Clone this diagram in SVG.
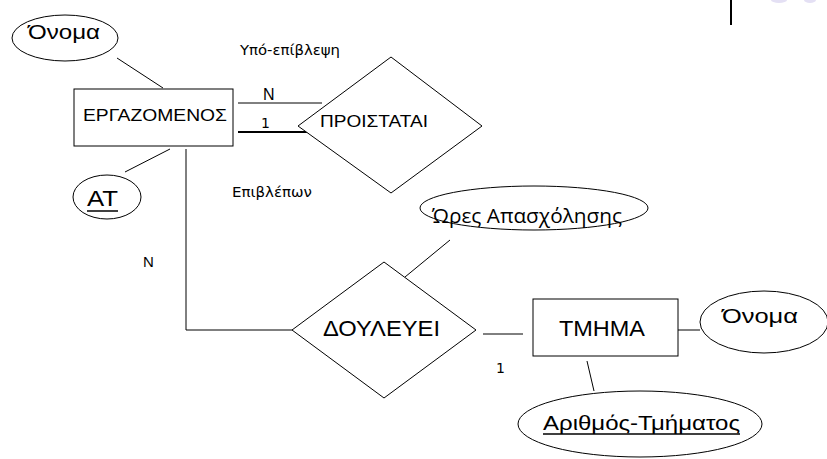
<svg xmlns="http://www.w3.org/2000/svg" width="827" height="459" viewBox="0 0 827 459">
<style>
.shp{fill:#fff;stroke:#000;stroke-width:1}
.ln{fill:none;stroke:#000;stroke-width:1}
.t{font-family:"Liberation Sans",Arial,sans-serif;fill:#000}
.h{font-family:"DejaVu Sans",sans-serif;fill:#000}
.o{font-family:"Open Sans","Noto Sans",sans-serif;fill:#000}
</style>
<rect width="827" height="459" fill="#fff"/>
<line x1="731" y1="0" x2="731" y2="25" stroke="#000" stroke-width="2"/>
<ellipse cx="779" cy="0" rx="8" ry="3" fill="#e4e0f4"/>
<ellipse cx="810" cy="0" rx="6" ry="3" fill="#e4e0f4"/>
<g id="connectors">
<line class="ln" x1="117" y1="58" x2="163" y2="88"/>
<line class="ln" x1="125" y1="172" x2="170" y2="149"/>
<line class="ln" x1="238" y1="103" x2="322" y2="103"/>
<line x1="238" y1="132" x2="313" y2="132" stroke="#000" stroke-width="2"/>
<polyline class="ln" points="186,149 186,330 292,330"/>
<line class="ln" x1="405" y1="277" x2="450" y2="240"/>
<line class="ln" x1="483" y1="334" x2="523" y2="334"/>
<line class="ln" x1="678" y1="330" x2="700" y2="330"/>
<line class="ln" x1="587" y1="361" x2="594" y2="391"/>
<text class="t" x="263" y="100" font-size="16">N</text>
<text class="h" x="261" y="128" font-size="14">1</text>
<text class="t" x="143" y="267" font-size="15">N</text>
<text class="h" x="496" y="373" font-size="14">1</text>
<text class="h" x="240" y="55" font-size="14" textLength="100" lengthAdjust="spacingAndGlyphs">Υπό-επίβλεψη</text>
<text class="h" x="232" y="197" font-size="14" textLength="80" lengthAdjust="spacingAndGlyphs">Επιβλέπων</text>
</g>
<g id="onoma1">
<ellipse class="shp" cx="65" cy="38" rx="53" ry="23"/>
<text class="t" x="28" y="39" font-size="20" textLength="72" lengthAdjust="spacingAndGlyphs">Όνομα</text>
</g>
<g id="ergazomenos">
<rect class="shp" x="74" y="89" width="159" height="57" stroke="#333"/>
<text class="t" x="83" y="121" font-size="17" textLength="144" lengthAdjust="spacingAndGlyphs">ΕΡΓΑΖΟΜΕΝΟΣ</text>
</g>
<g id="at">
<ellipse class="shp" cx="107" cy="197" rx="34" ry="22"/>
<text class="t" x="87" y="206" font-size="22" textLength="31" lengthAdjust="spacingAndGlyphs">ΑΤ</text>
<line x1="87" y1="211" x2="118" y2="211" stroke="#000" stroke-width="1.5"/>
</g>
<g id="proistatai">
<polygon class="shp" points="298,126 391,57 482,126 391,193"/>
<text class="t" x="320" y="127" font-size="17" textLength="108" lengthAdjust="spacingAndGlyphs">ΠΡΟΙΣΤΑΤΑΙ</text>
</g>
<g id="ores">
<ellipse class="shp" cx="534" cy="208" rx="114" ry="22"/>
<text class="o" x="432" y="223" font-size="20" textLength="190" lengthAdjust="spacingAndGlyphs">Ώρες Απασχόλησης</text>
</g>
<g id="douleuei">
<polygon class="shp" points="292,330 384,262 476,330 384,398"/>
<text class="t" x="323" y="336" font-size="22" textLength="117" lengthAdjust="spacingAndGlyphs">ΔΟΥΛΕΥΕΙ</text>
</g>
<g id="tmima">
<rect class="shp" x="533" y="299" width="145" height="57" stroke="#333"/>
<text class="t" x="559" y="336" font-size="22" textLength="86" lengthAdjust="spacingAndGlyphs">ΤΜΗΜΑ</text>
</g>
<g id="onoma2">
<ellipse class="shp" cx="764" cy="322" rx="64" ry="31"/>
<text class="t" x="722" y="323" font-size="20" textLength="76" lengthAdjust="spacingAndGlyphs">Όνομα</text>
</g>
<g id="arithmos">
<ellipse class="shp" cx="640" cy="424" rx="122" ry="33"/>
<text class="t" x="543" y="430" font-size="20" textLength="197" lengthAdjust="spacingAndGlyphs">Αριθμός-Τμήματος</text>
<line x1="543" y1="434" x2="740" y2="434" stroke="#000" stroke-width="1.5"/>
</g>
</svg>
